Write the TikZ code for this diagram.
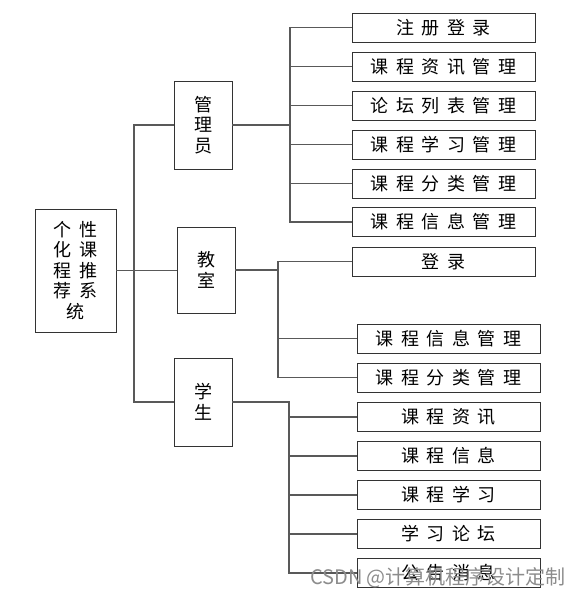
\documentclass[tikz,border=0pt]{standalone}
\usepackage{fontspec}
\newfontfamily\cjk[LetterSpace=42]{Noto Sans CJK SC}
\newfontfamily\cjkw{Noto Sans CJK SC}
\begin{document}
\begin{tikzpicture}[x=1pt,y=-1pt,
  box/.style={draw=black!80, line width=0.9pt, inner sep=0pt, align=center,
    font=\cjk\fontsize{18}{20.5}\selectfont},
  leaf/.style={box, minimum width=183pt, minimum height=29pt},
  conn/.style={draw=black!65, line width=1.1pt}]
\useasboundingbox (0,0) rectangle (578,598);
% root and level-1
\node[box, minimum width=81pt, minimum height=123pt] (root) at (75.5,270.5) {个性\\化课\\程推\\荐系\\统};
\node[box, minimum width=58pt, minimum height=88pt] (admin) at (203,125) {管\\理\\员};
\node[box, minimum width=58pt, minimum height=86pt] (teacher) at (206,270) {教\\室};
\node[box, minimum width=58pt, minimum height=88pt] (student) at (203,402) {学\\生};
% admin leaves
\node[leaf] (m1) at (443.5,27.5) {注册登录};
\node[leaf] (m2) at (443.5,66.5) {课程资讯管理};
\node[leaf] (m3) at (443.5,105.5) {论坛列表管理};
\node[leaf] (m4) at (443.5,144.5) {课程学习管理};
\node[leaf] (m5) at (443.5,183.5) {课程分类管理};
\node[leaf] (m6) at (443.5,222) {课程信息管理};
% teacher leaves
\node[leaf] (t1) at (443.5,261.5) {登录};
\node[leaf] (t2) at (448.5,338.5) {课程信息管理};
\node[leaf] (t3) at (448.5,377.5) {课程分类管理};
% student leaves
\node[leaf] (s1) at (448.5,417) {课程资讯};
\node[leaf] (s2) at (448.5,456) {课程信息};
\node[leaf] (s3) at (448.5,495) {课程学习};
\node[leaf] (s4) at (448.5,534) {学习论坛};
\node[leaf] (s5) at (448.5,573) {公告消息};
% bus coordinates
\coordinate (tr) at (134,270);
\coordinate (ab) at (290,125);
\coordinate (tb) at (278,270);
\coordinate (sb) at (289,402);
% connectors
\draw[conn] (root.east) -- (root.east -| teacher.west);
\draw[conn] (admin.west) -| (tr) |- (student.west);
\draw[conn] (admin.east) -- (ab);
\draw[conn] (m1.west) -| (ab |- m6) -- (m6.west);
\foreach \i in {m2,m3,m4,m5} \draw[conn] (ab |- \i) -- (\i.west);
\draw[conn] (teacher.east) -- (tb);
\draw[conn] (t1.west) -| (tb |- t3) -- (t3.west);
\draw[conn] (tb |- t2) -- (t2.west);
\draw[conn] (student.east) -| (sb |- s5) -- (s5.west);
\foreach \i in {s1,s2,s3,s4} \draw[conn] (sb |- \i) -- (\i.west);
% watermark
\node[text=black!45, inner sep=0pt, font=\cjkw\fontsize{20}{20}\selectfont] (wm) at (438,578) {CSDN @计算机程序设计定制};
\end{tikzpicture}
\end{document}
